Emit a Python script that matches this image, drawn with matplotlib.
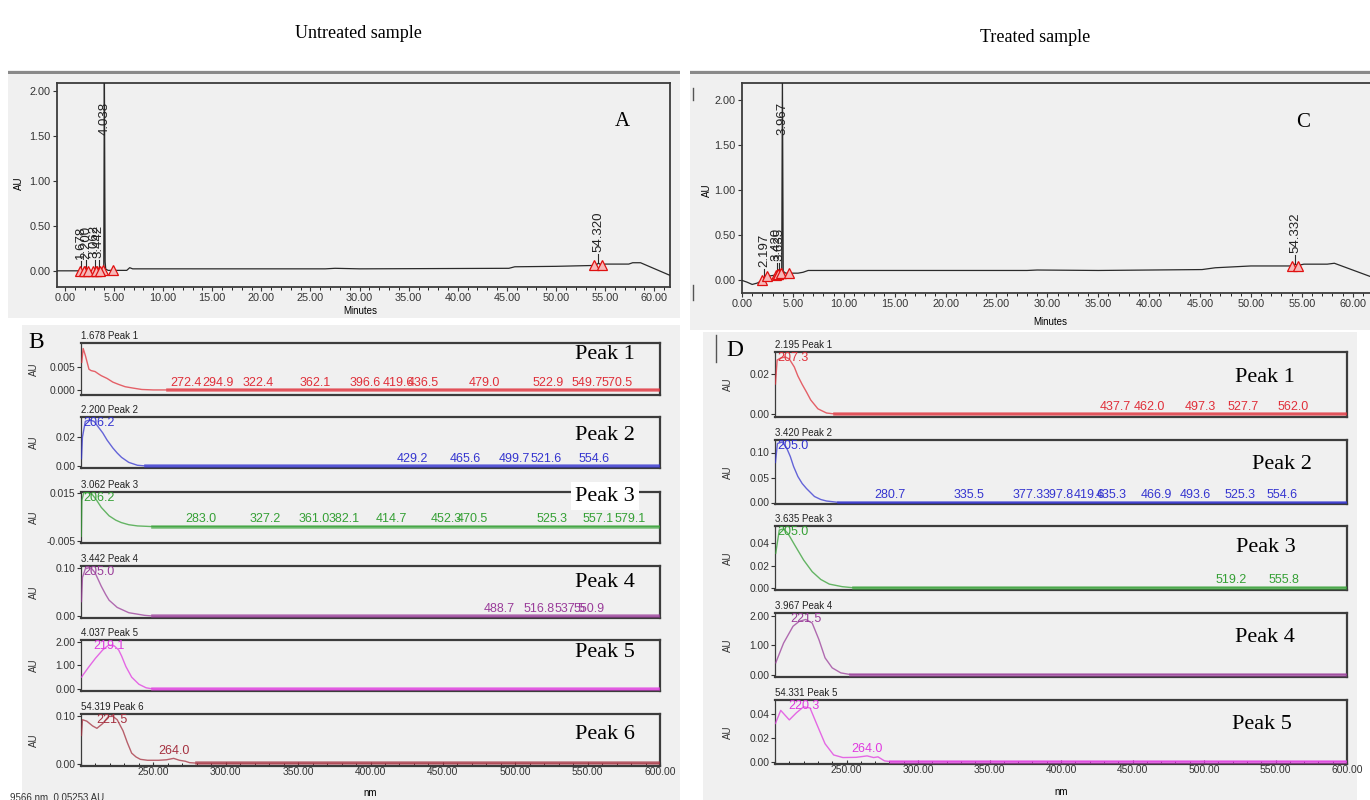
import numpy as np
import matplotlib
matplotlib.use("Agg")
import matplotlib.pyplot as plt
from matplotlib.patches import Rectangle
from matplotlib.ticker import MultipleLocator, FixedLocator

plt.rcParams["font.family"] = ["Liberation Sans", "DejaVu Sans"]
SERIF = ["Liberation Serif", "DejaVu Serif"]

# ─── CHROMATOGRAMS (Minutes vs AU) ────────────────────────────────────────────
A_min = [-0.8, 1.6, 1.68, 1.76, 2.12, 2.2, 2.28, 2.98, 3.06, 3.14, 3.38, 3.44, 3.52,
         3.96, 4.02, 4.07, 4.10, 4.16, 4.4, 6.3, 6.6, 6.9, 26.5, 27.5, 30.0, 45.2,
         45.8, 50.0, 54.0, 54.32, 54.6, 55.0, 57.4, 57.8, 58.6, 61.8]
A_au = [0.0, 0.0, 0.012, 0.0, 0.0, 0.015, 0.0, 0.0, 0.018, 0.0, 0.0, 0.022, 0.003,
        0.005, 2.3, 0.85, 0.1, 0.02, 0.005, 0.005, 0.035, 0.022, 0.022, 0.028, 0.022,
        0.028, 0.045, 0.05, 0.06, 0.085, 0.065, 0.075, 0.075, 0.09, 0.09, -0.06]
A_rt = [1.678, 2.200, 3.062, 3.442, 4.038, 54.320]
A_start = [1.5, 2.1, 2.9, 3.3, 3.9, 53.9]
A_end = [1.9, 2.4, 3.2, 3.6, 4.9, 54.7]

C_min = [0.0, 0.5, 1.0, 1.5, 2.0, 2.2, 2.5, 3.35, 3.42, 3.5, 3.6, 3.64, 3.7, 3.9,
         3.97, 4.05, 4.3, 5.5, 6.0, 6.5, 28.0, 29.0, 35.0, 45.2, 46.5, 50.0, 54.0,
         54.33, 54.6, 55.2, 57.5, 58.2, 61.8]
C_au = [0.0, -0.02, -0.045, -0.03, 0.0, 0.03, 0.045, 0.06, 0.09, 0.07, 0.08, 0.1,
        0.075, 0.08, 2.3, 0.1, 0.08, 0.08, 0.09, 0.11, 0.11, 0.115, 0.11, 0.12, 0.14,
        0.16, 0.16, 0.18, 0.165, 0.18, 0.18, 0.19, 0.04]
C_rt = [2.197, 3.420, 3.635, 3.967, 54.332]
C_start = [2.0, 3.3, 3.55, 3.8, 54.0]
C_end = [2.5, 3.55, 3.8, 4.6, 54.6]

# ─── UV SPECTRA, UNTREATED (B) ────────────────────────────────────────────────
B_titles = ["1.678 Peak 1", "2.200 Peak 2", "3.062 Peak 3",
            "3.442 Peak 4", "4.037 Peak 5", "54.319 Peak 6"]
B_nm = [
    [200.5, 201.5, 203, 205.5, 207, 209.7, 212, 214, 218, 222, 226, 230.5, 236, 242, 250, 260, 600],
    [200.3, 201, 203, 206, 209, 212, 215, 218, 222, 225, 228, 233, 239, 245, 600],
    [200.2, 200.6, 202, 205, 208, 211, 214, 219.4, 224, 227.8, 233, 239, 250, 600],
    [200.3, 201, 203, 205, 207, 209.7, 212, 214, 217, 219.4, 225, 233, 244, 250, 600],
    [200.3, 205, 210, 215, 219, 223, 226, 228, 231, 235, 240, 245, 250, 600],
    [200.3, 201, 204, 208, 211, 215, 219, 222, 225, 229, 232, 235, 238, 241, 246,
     253.6, 259, 264, 268, 272, 275, 280, 600],
]
B_au = [
    [0.006, 0.009, 0.0075, 0.0045, 0.0042, 0.004, 0.0035, 0.0031, 0.0025, 0.0017,
     0.0012, 0.0007, 0.0004, 0.0001, 0.0, 0.0, 0.0],
    [0.005, 0.02, 0.031, 0.032, 0.031, 0.027, 0.023, 0.018, 0.0125, 0.009, 0.006,
     0.0025, 0.0005, 0.0, 0.0],
    [-0.003, 0.012, 0.0152, 0.0152, 0.0142, 0.0118, 0.009, 0.0055, 0.0037, 0.0027,
     0.0018, 0.0013, 0.001, 0.001],
    [0.03, 0.08, 0.098, 0.1, 0.1, 0.09, 0.075, 0.062, 0.045, 0.033, 0.018, 0.007,
     0.0015, 0.0, 0.0],
    [0.5, 0.9, 1.3, 1.65, 1.85, 1.82, 1.65, 1.4, 0.95, 0.5, 0.2, 0.05, 0.0, 0.0],
    [0.06, 0.093, 0.09, 0.08, 0.075, 0.085, 0.1, 0.1, 0.093, 0.07, 0.045, 0.023,
     0.015, 0.01, 0.008, 0.008, 0.009, 0.012, 0.008, 0.006, 0.003, 0.002, 0.002],
]
B_maxima = [
    [272.4, 294.9, 322.4, 362.1, 396.6, 419.6, 436.5, 479.0, 522.9, 549.7, 570.5],
    [206.2, 429.2, 465.6, 499.7, 521.6, 554.6],
    [206.2, 283.0, 327.2, 361.0, 382.1, 414.7, 452.3, 470.5, 525.3, 557.1, 579.1],
    [205.0, 488.7, 516.8, 537.5, 550.9],
    [219.1],
    [221.5, 264.0],
]
B_ylim = [(-0.0011, 0.0102), (-0.0014, 0.034), (-0.0058, 0.0154),
          (-0.004, 0.104), (-0.085, 2.07), (-0.004, 0.105)]
B_yticks = [[0.0, 0.005], [0.0, 0.02], [-0.005, 0.015], [0.0, 0.10],
            [0.0, 1.0, 2.0], [0.0, 0.10]]
B_yfmt = ["{:.3f}", "{:.2f}", "{:.3f}", "{:.2f}", "{:.2f}", "{:.2f}"]
B_colors = ["#e0303a", "#3535d0", "#35a035", "#9a3d9a", "#e03ae0", "#a5303f"]

# ─── UV SPECTRA, TREATED (D) ──────────────────────────────────────────────────
D_titles = ["2.195 Peak 1", "3.420 Peak 2", "3.635 Peak 3", "3.967 Peak 4", "54.331 Peak 5"]
D_nm = [
    [200.3, 201.5, 204, 207.3, 210, 213.5, 216, 219, 222, 225, 230, 236, 242, 600],
    [200.3, 201.7, 205, 208, 210.7, 213, 216, 219, 222, 227.6, 232, 236, 245, 600],
    [200.5, 203, 206, 209, 214, 220, 226, 232, 238, 247, 255, 600],
    [200.5, 206, 212.6, 217, 221.5, 226, 230.7, 235, 240, 246, 253, 600],
    [200.3, 204, 210, 215, 220, 224.5, 229, 235, 241, 247.5, 256.7, 264.4, 269, 272,
     276.6, 281, 600],
]
D_au = [
    [0.015, 0.027, 0.028, 0.0285, 0.0275, 0.0235, 0.019, 0.0148, 0.011, 0.007, 0.0026,
     0.0005, 0.0, 0.0],
    [0.08, 0.118, 0.121, 0.11, 0.092, 0.072, 0.052, 0.038, 0.028, 0.012, 0.006, 0.003,
     0.0, 0.0],
    [0.031, 0.052, 0.053, 0.049, 0.038, 0.025, 0.0145, 0.0075, 0.0033, 0.001, 0.0, 0.0],
    [0.4, 1.07, 1.64, 1.81, 1.87, 1.75, 1.19, 0.57, 0.23, 0.06, 0.0, 0.0],
    [0.032, 0.043, 0.035, 0.041, 0.046, 0.045, 0.032, 0.015, 0.0056, 0.0034, 0.0036,
     0.0048, 0.0034, 0.004, 0.0006, 0.0, 0.0],
]
D_maxima = [
    [207.3, 437.7, 462.0, 497.3, 527.7, 562.0],
    [205.0, 280.7, 335.5, 377.3, 397.8, 419.6, 435.3, 466.9, 493.6, 525.3, 554.6],
    [205.0, 519.2, 555.8],
    [221.5],
    [220.3, 264.0],
]
D_ylim = [(-0.0015, 0.031), (-0.003, 0.125), (-0.002, 0.0556), (-0.08, 2.09), (-0.002, 0.0517)]
D_yticks = [[0.0, 0.02], [0.0, 0.05, 0.10], [0.0, 0.02, 0.04], [0.0, 1.0, 2.0], [0.0, 0.02, 0.04]]
D_yfmt = ["{:.2f}"] * 5
D_colors = ["#e0303a", "#3535d0", "#35a035", "#9a3d9a", "#e03ae0"]

# ─── LAYOUT (pixels on the 1370 x 800 canvas) ─────────────────────────────────
W, H = 1370, 800
BG = "#f0f0f0"
EDGE = "#3c3c3c"


def rect(l, t, r, b):
    return [l / W, 1 - b / H, (r - l) / W, (b - t) / H]


def ftext(x, y, s, **kw):
    fig.text(x / W, 1 - y / H, s, **kw)


def panel(l, t, r, b, color=BG):
    fig.add_artist(Rectangle((l / W, 1 - b / H), (r - l) / W, (b - t) / H,
                             transform=fig.transFigure, facecolor=color,
                             edgecolor="none", zorder=-5))


def chromatogram(pos, t, au, rt, t0, t1, xlim, ylim, letter, letter_xy):
    ax = fig.add_axes(rect(*pos))
    ax.set_facecolor(BG)
    ax.plot(t, au, color="#2a2a2a", linewidth=0.9, zorder=3)
    ax.set_xlim(*xlim)
    ax.set_ylim(*ylim)
    tri_t = list(t0) + list(t1)
    ax.plot(tri_t, np.interp(tri_t, t, au), linestyle="none", marker="^",
            markersize=7, markerfacecolor="#f6b8b8", markeredgecolor="#e01010",
            markeredgewidth=0.9, zorder=4)
    for r in rt:
        apex = np.interp(r, t, au)
        y0 = min(apex + 0.1, ylim[1] - 0.6)
        ax.plot([r, r], [min(apex, y0), y0], color="#2a2a2a", linewidth=0.8, zorder=3)
        ax.text(r, y0 + 0.02, f"{r:.3f}", rotation=90, ha="center", va="bottom",
                fontsize=9.5, color="#222222", zorder=5)
    ax.xaxis.set_major_locator(MultipleLocator(5))
    ax.xaxis.set_minor_locator(MultipleLocator(1))
    ax.xaxis.set_major_formatter(lambda v, p: f"{v:.2f}")
    ax.yaxis.set_major_locator(FixedLocator([0, 0.5, 1.0, 1.5, 2.0]))
    ax.yaxis.set_major_formatter(lambda v, p: f"{v:.2f}")
    ax.tick_params(labelsize=7.8, length=3, width=0.8, colors="#333333", pad=1.5)
    ax.tick_params(which="minor", length=2, width=0.6)
    for s in ax.spines.values():
        s.set_color(EDGE)
        s.set_linewidth(1.3)
    ax.text(*letter_xy, letter, transform=ax.transAxes, fontsize=15,
            family=SERIF, ha="center", va="center")
    return ax


def spectra(boxes, left, right, nm, au, maxima, titles, ylims, yticks, yfmts,
            colors, peak_pos):
    axes = []
    for i, (top, bot) in enumerate(boxes):
        ax = fig.add_axes(rect(left, top, right, bot))
        ax.set_facecolor(BG)
        x = np.array(nm[i])
        y = np.array(au[i])
        c = colors[i]
        ax.plot(x, y, color=c, linewidth=1.0, alpha=0.75, zorder=3)
        ax.plot(x[-2:], y[-2:], color=c, linewidth=2.6, alpha=0.6, zorder=3)
        ax.set_xlim(200, 600)
        ax.set_ylim(*ylims[i])
        lo, hi = ylims[i]
        for wl in maxima[i]:
            val = np.interp(wl, x, y)
            ha, xx = "center", wl
            if wl - 200 < 12:
                ha, xx = "left", 201.5
            if val > lo + 0.6 * (hi - lo):
                ax.text(xx, hi, f"{wl:.1f}", ha=ha, va="top", fontsize=9,
                        color=c, zorder=5)
            else:
                ax.annotate(f"{wl:.1f}", (xx, val), xytext=(0, 1),
                            textcoords="offset points", ha=ha, va="bottom",
                            fontsize=9, color=c, zorder=5)
        ax.yaxis.set_major_locator(FixedLocator(yticks[i]))
        ax.yaxis.set_major_formatter(lambda v, p, f=yfmts[i]: f.format(v))
        ax.xaxis.set_major_locator(MultipleLocator(50))
        ax.xaxis.set_minor_locator(MultipleLocator(10))
        ax.xaxis.set_major_formatter(lambda v, p: f"{v:.2f}" if v >= 250 else "")
        ax.tick_params(labelsize=7.4, length=3, width=0.8, colors="#333333", pad=1)
        ax.tick_params(axis="x", which="both", direction="in")
        ax.tick_params(which="minor", length=2, width=0.6)
        if i < len(boxes) - 1:
            ax.tick_params(axis="x", which="both", labelbottom=False, length=0)
        for s in ax.spines.values():
            s.set_color(EDGE)
            s.set_linewidth(1.6)
        ax.spines["left"].set_linewidth(0.9)
        ax.text(0.0, 1.03, titles[i], transform=ax.transAxes, fontsize=7,
                color="#222222", ha="left", va="bottom")
        px, py, boxed = peak_pos[i]
        kw = {}
        if boxed:
            kw["bbox"] = dict(facecolor="white", edgecolor="none", pad=3)
        ax.text(px, py, f"Peak {i + 1}", transform=ax.transAxes, fontsize=16,
                family=SERIF, ha="center", va="center", zorder=6, **kw)
        ftext(left - 47, (top + bot) / 2, "AU", rotation=90, fontsize=7,
              ha="center", va="center", color="#333333")
        axes.append(ax)
    return axes


fig = plt.figure(figsize=(W / 100, H / 100), dpi=100)

# background panels
panel(8, 70, 680, 318)
panel(690, 70, 1370, 330)
panel(22, 325, 680, 800)
panel(703, 332, 1357, 800)
for l, r in [(8, 680), (690, 1370)]:
    fig.add_artist(Rectangle((l / W, 1 - 74 / H), (r - l) / W, 3 / H,
                             transform=fig.transFigure, facecolor="#8a8a8a",
                             edgecolor="none", zorder=-4))

ftext(358, 33, "Untreated sample", fontsize=13, family=SERIF, ha="center", va="center")
ftext(1035, 38, "Treated sample", fontsize=13, family=SERIF, ha="center", va="center")

# chromatograms
chromatogram((57, 83, 670, 287), A_min, A_au, A_rt, A_start, A_end,
             (-0.8, 61.6), (-0.18, 2.09), "A", (0.923, 0.81))
ftext(360, 311, "Minutes", fontsize=7, ha="center", va="center")
ftext(19, 183, "AU", rotation=90, fontsize=7, ha="center", va="center")

axC = chromatogram((742, 83, 1370, 293), C_min, C_au, C_rt, C_start, C_end,
                   (0.0, 61.7), (-0.14, 2.19), "C", (0.893, 0.81))
axC.spines["right"].set_visible(False)
ftext(1050, 322, "Minutes", fontsize=7, ha="center", va="center")
ftext(707, 190, "AU", rotation=90, fontsize=7, ha="center", va="center")
for y0, y1 in [(88, 100), (285, 300)]:
    fig.add_artist(plt.Line2D([693 / W, 693 / W], [1 - y0 / H, 1 - y1 / H],
                              transform=fig.transFigure, color="#555555", linewidth=1))

# spectra B
B_boxes = [(343, 395), (417, 468), (492, 543), (566, 618), (640, 691), (714, 766)]
B_peak_pos = [(0.905, 0.77, False), (0.905, 0.63, False), (0.905, 0.92, True),
              (0.905, 0.69, False), (0.905, 0.75, False), (0.905, 0.6, False)]
spectra(B_boxes, 81, 660, B_nm, B_au, B_maxima, B_titles, B_ylim, B_yticks, B_yfmt,
        B_colors, B_peak_pos)
ftext(370, 793, "nm", fontsize=7, ha="center", va="center")
ftext(28, 342, "B", fontsize=17, family=SERIF, ha="left", va="center")
ftext(10, 797, "9566 nm, 0.05253 AU", fontsize=7, ha="left", va="center",
      color="#333333")

# spectra D
D_boxes = [(352, 417), (440, 504), (526, 590), (613, 677), (700, 764)]
D_peak_pos = [(0.857, 0.6, False), (0.886, 0.61, False), (0.858, 0.66, False),
              (0.857, 0.62, False), (0.851, 0.62, False)]
spectra(D_boxes, 775, 1347, D_nm, D_au, D_maxima, D_titles, D_ylim, D_yticks, D_yfmt,
        D_colors, D_peak_pos)
ftext(1061, 792, "nm", fontsize=7, ha="center", va="center")
ftext(735, 350, "D", fontsize=17, family=SERIF, ha="center", va="center")
fig.add_artist(plt.Line2D([716 / W, 716 / W], [1 - 335 / H, 1 - 362 / H],
                          transform=fig.transFigure, color="#555555", linewidth=1))

fig.savefig("out.png", dpi=100)
